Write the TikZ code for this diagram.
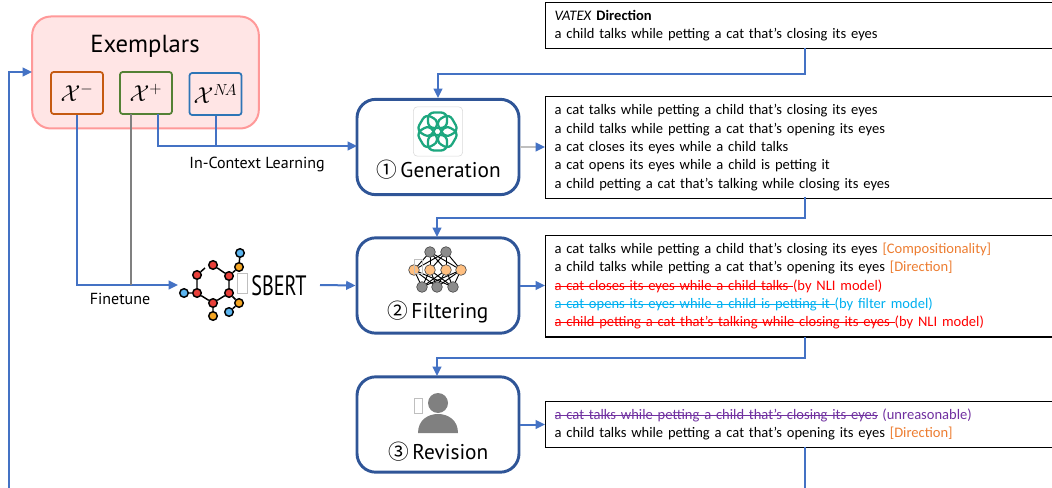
\documentclass[tikz,border=0pt]{standalone}
\usepackage{fontspec}
\usepackage{graphicx}
\usetikzlibrary{arrows.meta,calc}
\setmainfont{Carlito}
\newfontfamily\din{PT Sans}
\newfontfamily\circfont{Noto Sans CJK KR}
\definecolor{cblue}{HTML}{4472C4}
\definecolor{nblue}{HTML}{2F5597}
\definecolor{xorange}{HTML}{C55A11}
\definecolor{xgreen}{HTML}{538135}
\definecolor{xblue}{HTML}{2E75B6}
\definecolor{tagor}{HTML}{ED7D31}
\definecolor{tagpu}{HTML}{7030A0}
\definecolor{tagcy}{HTML}{00B0F0}
\definecolor{gptgreen}{HTML}{1DA77F}
\definecolor{molred}{HTML}{E8403A}
\definecolor{molblue}{HTML}{5BB5F0}
\definecolor{molor}{HTML}{F5A623}
\newcommand\strk[1]{\leavevmode\rlap{\setbox0\hbox{#1}\rule[0.27em]{\wd0}{0.6pt}}#1}
\tikzset{
 conn/.style={cblue,line width=1.5pt,-{Triangle[length=7pt,width=6.5pt]}},
 connplain/.style={cblue,line width=1.5pt},
 stagebox/.style={draw=nblue,line width=2.2pt,fill=white,rounded corners=14pt,minimum width=121.5pt,minimum height=71.5pt,inner sep=0pt},
 stagelabel/.style={font=\din\fontsize{16}{18}\selectfont,inner sep=0pt},
 xbox/.style={line width=1.3pt,rounded corners=2pt,minimum width=39pt,minimum height=31.5pt,inner sep=0pt,font=\fontsize{18}{20}\selectfont},
 textbox/.style={draw=black,line width=0.9pt,fill=white,anchor=north west,inner xsep=6.75pt,inner ysep=0pt,text width=372.75pt,align=left,font=\fontsize{10.9}{13.75}\selectfont},
 lab/.style={font=\din\fontsize{12}{14}\selectfont,inner sep=0pt},
 mol/.style={circle,draw=black,line width=1.1pt,minimum size=6.4pt,inner sep=0pt},
 neur/.style={circle,draw=black!70,line width=0.5pt,minimum size=8pt,inner sep=0pt},
 ghost/.style={draw=black!25,line width=0.5pt,inner sep=0pt}
}
\begin{document}
\begin{tikzpicture}[x=0.75pt,y=-0.75pt]
\useasboundingbox (0,0) rectangle (1052,488);
\clip (0,0) rectangle (1052,488);
% exemplars
\node[draw=red!40,fill=red!10,line width=1.5pt,rounded corners=14pt,minimum width=170pt,minimum height=84pt,inner sep=0pt] (ex) at (145.5,72.5) {};
\node[font=\din\fontsize{18.5}{20}\selectfont,inner sep=0pt] (extitle) at (145,46) {Exemplars};
\node[xbox,draw=xorange] (xm) at (77,93) {$\mathcal{X}^{-}$};
\node[xbox,draw=xgreen] (xp) at (146,93) {$\mathcal{X}^{+}$};
\node[xbox,draw=xblue] (xna) at (215.5,94) {\fontsize{16.5}{18}\selectfont$\mathcal{X}^{N\!A}$};
% stages
\node[stagebox] (gen) at (438,147) {};
\node[stagebox] (filt) at (438,285.5) {};
\node[stagebox] (rev) at (438,424.5) {};
\node[stagelabel,anchor=west] (genl) at (376,169.5) {{\circfont\fontsize{15.5}{18}\selectfont ①}\,Generation};
\node[stagelabel,anchor=west] (filtl) at (387,312.5) {{\circfont\fontsize{15.5}{18}\selectfont ②}\,Filtering};
\node[stagelabel,anchor=west] (revl) at (388,451.5) {{\circfont\fontsize{15.5}{18}\selectfont ③}\,Revision};
% text boxes
\node[textbox,minimum height=34.5pt] (b0) at (545,2) {\textit{VATEX} \textbf{Direction}\\a child talks while petting a cat that's closing its eyes};
\node[textbox,minimum height=76.5pt] (b1) at (545,96) {a cat talks while petting a child that's closing its eyes\\a child talks while petting a cat that's opening its eyes\\a cat closes its eyes while a child talks\\a cat opens its eyes while a child is petting it\\a child petting a cat that's talking while closing its eyes};
\node[textbox,minimum height=76pt] (b2) at (545,235) {a cat talks while petting a child that's closing its eyes {\color{tagor}[Compositionality]}\\a child talks while petting a cat that's opening its eyes {\color{tagor}[Direction]}\\{\color{red}\strk{a cat closes its eyes while a child talks }(by NLI model)}\\{\color{tagcy}\strk{a cat opens its eyes while a child is petting it }(by filter model)}\\{\color{red}\strk{a child petting a cat that's talking while closing its eyes }(by NLI model)}};
\node[textbox,minimum height=34.5pt] (b3) at (545,401) {{\color{tagpu}\strk{a cat talks while petting a child that's closing its eyes} (unreasonable)}\\a child talks while petting a cat that's opening its eyes {\color{tagor}[Direction]}};
% free ends
\coordinate (loopstart) at (9,488);
\coordinate (exin) at (32,72);
\coordinate (xpa) at (131,114);
\coordinate (xpb) at (158,114);
\coordinate (icl) at (158,146);
\coordinate (gin) at (357,146);
\coordinate (b0o) at (805,48);
\coordinate (gtop) at (438,98);
\coordinate (b1o) at (805,197);
\coordinate (ftop) at (437,237);
\coordinate (b2o) at (805,337);
\coordinate (rtop) at (437,376);
\coordinate (b3o) at (805,447);
\coordinate (b3e) at (805,488);
\coordinate (sin) at (178,285);
% sbert molecule
\node[mol,fill=molred] (m1) at (213,265) {};
\node[mol,fill=molred] (m2) at (229,276) {};
\node[mol,fill=molred] (m3) at (229,293) {};
\node[mol,fill=molred] (m4) at (213,303) {};
\node[mol,fill=molred] (m5) at (197,293) {};
\node[mol,fill=molred] (m6) at (197,275) {};
\node[mol,fill=molor] (m7) at (239,267) {};
\node[mol,fill=molblue] (m8) at (240,253) {};
\node[mol,fill=molblue] (m9) at (184,293) {};
\node[mol,fill=molor] (m10) at (239,303) {};
\node[mol,fill=molblue] (m11) at (229,312) {};
\node[mol,fill=molor] (m12) at (213,316) {};
\draw[line width=1.1pt] (m1)--(m2)--(m3)--(m4)--(m5)--(m6) (m2)--(m7)--(m8) (m5)--(m9) (m3)--(m10)--(m11) (m4)--(m12);
\draw[line width=1.1pt] (m6)--(205,268);
\node[ghost,minimum width=7.5pt,minimum height=15pt] (g1) at (242,283) {};
\node[inner sep=0pt,font=\din\fontsize{21}{23}\selectfont] (sbert) at (279,286) {\scalebox{0.72}[1]{SBERT}};
% connectors
\draw[conn] (loopstart) |- (exin);
\draw[conn] (xm.south) |- (sin);
\draw[line width=1.5pt,color=black!50] (xpa) -- (xpa |- sin);
\draw[conn] (xpb) |- (gin);
\draw[connplain] (xna.south) -- (xna.south |- icl);
\draw[conn] (b0o) -- (805,74) -| (gtop);
\draw[line width=1.3pt,color=black!25,-{Triangle[length=7pt,width=6.5pt,color=cblue]}] (gen.east) -- (gen.east -| b1.west);
\draw[conn] (b1o) -- (805,218) -| (ftop);
\draw[conn] (320,285) -- (filt.west);
\draw[conn] (filt.east) -- (filt.east -| b2.west);
\draw[conn] (b2o) -- (805,358) -| (rtop);
\draw[conn] (rev.east) -- (rev.east -| b3.west);
\draw[connplain] (b3o) -- (b3e);
% labels
\node[lab] (icltxt) at (257,165) {In-Context Learning};
\node[lab] (ftxt) at (120,299) {Finetune};
% gpt icon
\node[draw=black!15,line width=0.4pt,rounded corners=3pt,minimum width=37pt,minimum height=37pt,inner sep=0pt] (gpt) at (438,131.5) {};
\foreach \a in {0,60,...,300}{
 \draw[gptgreen,line width=1.7pt,rounded corners=4.5pt,rotate around={\a:(437.5,131.5)}] (428,112.5) rectangle (447,128);
}
% neural net
\begin{scope}
\foreach \n/\x/\y in {t1/430/252,t2/446/252,b1n/422/287,b2n/437/287,b3n/453/287}{\coordinate (\n) at (\x,\y);}
\foreach \n/\x in {o1/414,o2/430,o3/446,o4/461}{\coordinate (\n) at (\x,270);}
\foreach \s in {t1,t2}\foreach \e in {o1,o2,o3,o4}{\draw[line width=0.7pt] (\s)--(\e);}
\foreach \s in {o1,o2,o3,o4}\foreach \e in {b1n,b2n,b3n}{\draw[line width=0.7pt] (\s)--(\e);}
\foreach \n/\x/\y in {t1/430/252,t2/446/252,b1n/422/287,b2n/437/287,b3n/453/287}{\node[neur,fill=black!45] at (\x,\y) {};}
\foreach \n/\x in {o1/414,o2/430,o3/446,o4/461}{\node[neur,fill=orange!50!white] at (\x,270) {};}
\end{scope}
\node[ghost,minimum width=6pt,minimum height=10.5pt] (g2) at (418,266) {};
% person
\node[ghost,minimum width=6pt,minimum height=11pt,fill=white] (g3) at (418,405.5) {};
\node[circle,fill=black!50,minimum size=15pt,inner sep=0pt] (head) at (438,403) {};
\fill[black!50] (418,433) .. controls (418,420) and (428,414) .. (438,414) .. controls (448,414) and (458,420) .. (458,433) -- cycle;
\end{tikzpicture}
\end{document}
